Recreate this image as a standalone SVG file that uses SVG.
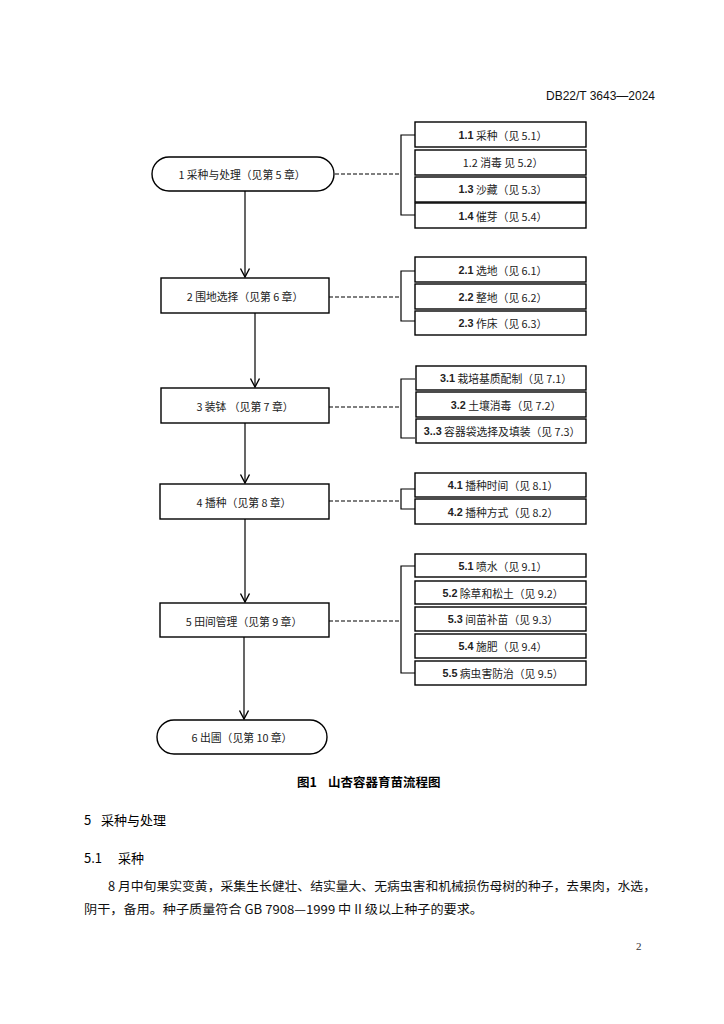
<svg xmlns="http://www.w3.org/2000/svg" width="724" height="1024" viewBox="0 0 724 1024">
<style>
.bg{fill:#fff}
.node{fill:#fff;stroke:#000;stroke-width:1.4}
.sub{fill:#fff;stroke:#000;stroke-width:1.4}
.t{font-family:"Noto Sans CJK SC","Liberation Serif",serif;font-size:10.8px;fill:#222;text-anchor:middle;dominant-baseline:central}
.n{font-family:"Liberation Sans",sans-serif;font-weight:bold}
.line{stroke:#000;stroke-width:1.2;fill:none}
.dash{stroke:#000;stroke-width:1.2;fill:none;stroke-dasharray:4 2}
.body{font-family:"Noto Sans CJK SC","Liberation Serif",serif;font-size:12.5px;fill:#111}
.head{font-family:"Noto Sans CJK SC","Liberation Sans",sans-serif;font-size:13px;fill:#000}
</style>
<defs>
<marker id="arr" markerWidth="12" markerHeight="12" refX="10.5" refY="6" orient="auto" markerUnits="userSpaceOnUse" viewBox="0 0 12 12">
<polyline points="2,1.5 10.5,6 2,10.5" fill="none" stroke="#000" stroke-width="1.4"/>
</marker>
</defs>
<rect class="bg" x="0" y="0" width="724" height="1024"/>
<text x="546" y="100" font-family="Liberation Sans,sans-serif" font-size="12" fill="#111" textLength="109">DB22/T 3643—2024</text>

<g id="connectors">
<line class="line" x1="245" y1="191" x2="245" y2="277" marker-end="url(#arr)"/>
<line class="line" x1="255" y1="313" x2="255" y2="387" marker-end="url(#arr)"/>
<line class="line" x1="245" y1="423" x2="245" y2="483" marker-end="url(#arr)"/>
<line class="line" x1="245" y1="519" x2="245" y2="602" marker-end="url(#arr)"/>
<line class="line" x1="244" y1="637" x2="244" y2="719" marker-end="url(#arr)"/>
<line class="dash" x1="335" y1="174" x2="401" y2="174"/>
<polyline class="line" points="415,135 401,135 401,215 415,215"/>
<line class="dash" x1="329" y1="297" x2="401" y2="297"/>
<polyline class="line" points="415,271 401,271 401,321 415,321"/>
<line class="dash" x1="329" y1="407" x2="401" y2="407"/>
<polyline class="line" points="415,379 401,379 401,438 415,438"/>
<line class="dash" x1="329" y1="501" x2="401" y2="501"/>
<polyline class="line" points="415,489 401,489 401,509 415,509"/>
<line class="dash" x1="329" y1="621" x2="401" y2="621"/>
<polyline class="line" points="415,566 401,566 401,673 415,673"/>
</g>

<g id="n1"><rect class="node" x="152" y="157" width="182" height="34" rx="17"/><text class="t" x="242" y="174">1 采种与处理（见第 5 章）</text></g>
<g id="n2"><rect class="node" x="161" y="278" width="168" height="35"/><text class="t" x="245" y="296">2 围地选择（见第 6 章）</text></g>
<g id="n3"><rect class="node" x="161" y="388" width="168" height="35"/><text class="t" x="245" y="406">3 装钵 （见第 7 章）</text></g>
<g id="n4"><rect class="node" x="160" y="484" width="169" height="35"/><text class="t" x="244" y="502">4 播种（见第 8 章）</text></g>
<g id="n5"><rect class="node" x="160" y="603" width="169" height="34"/><text class="t" x="244" y="621">5 田间管理（见第 9 章）</text></g>
<g id="n6"><rect class="node" x="157" y="720" width="170" height="34" rx="17"/><text class="t" x="242" y="737">6 出圃（见第 10 章）</text></g>

<g id="s11"><rect class="sub" x="415" y="122" width="171" height="25"/><text class="t" x="503" y="135"><tspan class="n">1.1</tspan> 采种（见 5.1）</text></g>
<g id="s12"><rect class="sub" x="415" y="150" width="171" height="25"/><text class="t" x="503" y="162">1.2  消毒 见 5.2）</text></g>
<g id="s13"><rect class="sub" x="415" y="177" width="171" height="25"/><text class="t" x="503" y="189"><tspan class="n">1.3</tspan> 沙藏（见 5.3）</text></g>
<g id="s14"><rect class="sub" x="415" y="203" width="171" height="25"/><text class="t" x="503" y="216"><tspan class="n">1.4</tspan> 催芽（见 5.4）</text></g>

<g id="s21"><rect class="sub" x="415" y="257" width="171" height="25"/><text class="t" x="503" y="270"><tspan class="n">2.1</tspan> 选地（见 6.1）</text></g>
<g id="s22"><rect class="sub" x="415" y="284" width="171" height="25"/><text class="t" x="503" y="297"><tspan class="n">2.2</tspan> 整地（见 6.2）</text></g>
<g id="s23"><rect class="sub" x="415" y="311" width="171" height="24"/><text class="t" x="503" y="323"><tspan class="n">2.3</tspan> 作床（见 6.3）</text></g>

<g id="s31"><rect class="sub" x="416" y="366" width="170" height="24"/><text class="t" x="506" y="378"><tspan class="n">3.1</tspan> 栽培基质配制（见 7.1）</text></g>
<g id="s32"><rect class="sub" x="416" y="392" width="170" height="25"/><text class="t" x="506" y="405"><tspan class="n">3.2</tspan> 土壤消毒（见 7.2）</text></g>
<g id="s33"><rect class="sub" x="416" y="419" width="170" height="24"/><text class="t" x="502" y="431"><tspan class="n">3..3</tspan> 容器袋选择及填装（见 7.3）</text></g>

<g id="s41"><rect class="sub" x="415" y="473" width="171" height="24"/><text class="t" x="503" y="485"><tspan class="n">4.1</tspan> 播种时间（见 8.1）</text></g>
<g id="s42"><rect class="sub" x="415" y="499" width="171" height="25"/><text class="t" x="503" y="512"><tspan class="n">4.2</tspan> 播种方式（见 8.2）</text></g>

<g id="s51"><rect class="sub" x="415" y="554" width="171" height="23"/><text class="t" x="503" y="566"><tspan class="n">5.1</tspan> 喷水（见 9.1）</text></g>
<g id="s52"><rect class="sub" x="415" y="581" width="171" height="23"/><text class="t" x="503" y="593"><tspan class="n">5.2</tspan> 除草和松土（见 9.2）</text></g>
<g id="s53"><rect class="sub" x="415" y="607" width="171" height="24"/><text class="t" x="503" y="619"><tspan class="n">5.3</tspan> 间苗补苗（见 9.3）</text></g>
<g id="s54"><rect class="sub" x="415" y="634" width="171" height="24"/><text class="t" x="503" y="646"><tspan class="n">5.4</tspan> 施肥（见 9.4）</text></g>
<g id="s55"><rect class="sub" x="415" y="661" width="171" height="24"/><text class="t" x="503" y="673"><tspan class="n">5.5</tspan> 病虫害防治（见 9.5）</text></g>

<text x="297" y="787" font-family="Noto Sans CJK SC,Liberation Sans,sans-serif" font-size="12.5" font-weight="bold" fill="#000">图1<tspan x="328">山杏容器育苗流程图</tspan></text>

<text class="head" x="84" y="825">5<tspan x="101">采种与处理</tspan></text>
<text class="head" x="84" y="863">5.1<tspan x="118">采种</tspan></text>
<text class="body" x="108" y="891" textLength="548" lengthAdjust="spacingAndGlyphs">8 月中旬果实变黄，采集生长健壮、结实量大、无病虫害和机械损伤母树的种子，去果肉，水选，</text>
<text class="body" x="84" y="914" textLength="399" lengthAdjust="spacingAndGlyphs">阴干，备用。种子质量符合 GB 7908—1999 中 II 级以上种子的要求。</text>
<text x="636" y="950" font-family="Liberation Serif,serif" font-size="11" fill="#333">2</text>
</svg>
